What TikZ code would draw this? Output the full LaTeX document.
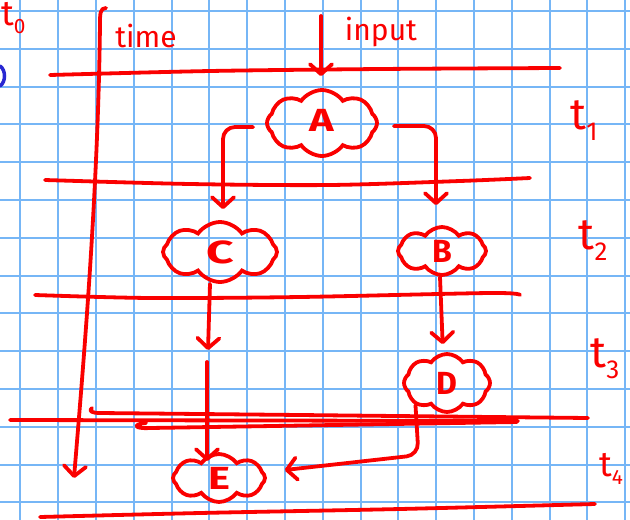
\documentclass[tikz,border=0pt]{standalone}
\usepackage{fontspec}
\setmainfont{Fira Sans}
\usetikzlibrary{arrows.meta,shapes.symbols}
\definecolor{gridblue}{RGB}{118,182,246}
\definecolor{inkred}{RGB}{250,0,0}
\definecolor{penblue}{RGB}{40,40,210}
% t with a subscript digit, as written beside each time slice
\newcommand\tlab[1]{{\fontsize{44}{44}\selectfont t}\raisebox{-11pt}{\fontsize{26}{26}\selectfont #1}}
\tikzset{
  stroke/.style={draw=inkred, line width=3.8pt, line cap=round, line join=round},
  flow/.style={stroke, -{Straight Barb[length=10pt,width=22pt,round]}},
  blob/.style={cloud, cloud puffs=8, cloud puff arc=110, cloud ignores aspect,
    draw=inkred, line width=3.8pt, inner sep=0pt, text=inkred,
    font=\fontsize{32}{32}\selectfont\bfseries},
  script/.style={text=inkred, inner sep=0pt, font=\fontsize{30}{30}\selectfont},
  tlabel/.style={text=inkred, inner sep=0pt},
}
\begin{document}
\begin{tikzpicture}[x=1pt, y=-1pt]
  \useasboundingbox (0,0) rectangle (630,520);
  \clip (0,0) rectangle (630,520);
  \fill[white] (0,0) rectangle (630,520);

  % squared paper
  \foreach \k in {0,...,16}
    \draw[gridblue, line width=2pt] ({20.3+37.8*\k},0) -- ({20.3+37.8*\k},520);
  \foreach \k in {0,...,13}
    \draw[gridblue, line width=2pt] (0,{11+37.8*\k}) -- (630,{11+37.8*\k});

  % stray pen mark at the left margin
  \draw[draw=penblue, line width=3.5pt, line cap=round] (0,66) .. controls (6,70) and (6,82) .. (0,86);

  % time slice separators
  \draw[stroke] plot[smooth] coordinates {(50,75) (210,71) (380,69) (560,68)};
  \draw[stroke] plot[smooth] coordinates {(45,180) (190,184) (330,185) (460,181) (530,178)};
  \draw[stroke] plot[smooth] coordinates {(35,295) (150,298) (300,297) (490,293) (520,295)};
  \draw[stroke] (10,420) -- (518,421);
  \draw[stroke] (92,408) .. controls (88,411) and (92,413) .. (100,413) -- (300,415) -- (588,418);
  \draw[stroke] (146,423) .. controls (133,424) and (133,429) .. (150,428) -- (517,422);
  \draw[stroke] plot[smooth] coordinates {(40,517) (200,513) (400,509) (595,504)};

  % time axis
  \coordinate (tTop) at (106,8);
  \coordinate (tEnd) at (74,478);
  \draw[flow] (tTop) .. controls (100,8) and (100,14) .. (100,24)
    .. controls (98,200) and (82,380) .. (tEnd);
  \node[script] (timeLabel) at (146,36) {time};

  % tasks
  \node[blob, minimum width=110pt, minimum height=66pt] (A) at (322,123) {\raisebox{5pt}{\scalebox{1.3}[1]{A}}};
  \node[blob, minimum width=88pt, minimum height=48pt] (B) at (442,251) {B};
  \node[blob, minimum width=114pt, minimum height=60pt] (C) at (220,252) {\scalebox{1.5}[1]{C}};
  \node[blob, minimum width=86pt, minimum height=58pt] (D) at (447,383) {D};
  \node[blob, minimum width=92pt, minimum height=48pt] (E) at (219,478) {\scalebox{1.3}[1]{E}};

  % input
  \coordinate (inTop) at (321,16);
  \node[script] (inputLabel) at (381,32) {input};
  \draw[flow, shorten >=12pt] (inTop) -- (inTop |- A.north);

  % dependencies
  \draw[flow, rounded corners=12pt, shorten >=11pt]
    ([xshift=-12pt,yshift=-4pt]A.west) -| ([xshift=3pt]C.north);
  \draw[flow, rounded corners=12pt, shorten >=20pt]
    ([xshift=15pt,yshift=-3pt]A.east) -| ([xshift=-6pt]B.north);
  \coordinate (c3a) at (208,350);
  \coordinate (c3b) at (207,362);
  \draw[flow] ([xshift=-10pt]C.south) -- (c3a);
  \draw[flow, shorten >=-9pt] (c3b) -- (c3b |- E.north);
  \draw[flow, shorten >=8pt] ([xshift=-2pt]B.south) -- ([xshift=-4pt]D.north);
  \draw[flow, rounded corners=12pt, shorten >=18pt]
    (D.215) -- ++(3,50) -- ([yshift=6pt]E.east);

  % time slice labels
  \node[tlabel, scale=0.8, anchor=west] (t0) at (1,18) {\tlab{0}};
  \node[tlabel] (t1) at (584,121) {\tlab{1}};
  \node[tlabel] (t2) at (593,241) {\tlab{2}};
  \node[tlabel] (t3) at (605,359) {\tlab{3}};
  \node[tlabel, scale=0.8] (t4) at (611,469) {\tlab{4}};
\end{tikzpicture}
\end{document}
